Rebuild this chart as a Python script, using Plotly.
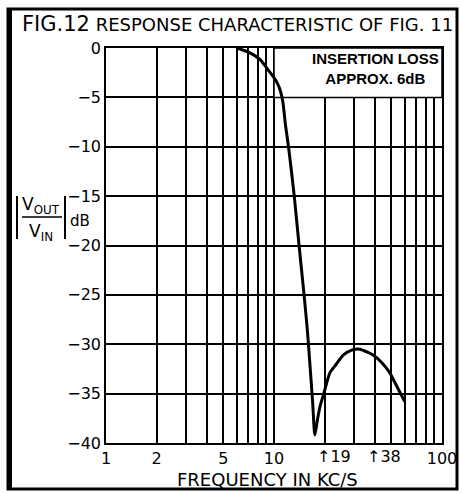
import math
import plotly.graph_objects as go

# ---- data ----
freq_kcs = [6.0, 7.0, 8.3, 9.3, 9.9, 10.5, 10.9, 11.3, 11.7, 12.2, 13.2, 14.1, 15.1,
            15.8, 16.4, 17.0, 17.5, 18.2, 18.8, 20.0, 21.5, 23.5, 25.8, 29.0, 32.4,
            36.0, 38.9, 44.0, 48.9, 54.0, 60.0]
response_db = [0.0, -0.4, -1.2, -2.3, -2.9, -3.6, -4.3, -5.5, -7.8, -10.0, -15.0, -20.0, -25.0,
               -28.6, -32.3, -36.0, -39.2, -37.5, -36.3, -34.7, -32.9, -32.0, -31.1, -30.6, -30.5,
               -30.8, -31.1, -31.9, -32.9, -34.3, -35.8]

x_tick_vals = [1, 2, 5, 10, 100]
x_tick_text = ["1", "2", "5", "10", "100"]
x_grid_vals = [1, 2, 3, 4, 5, 6, 7, 8, 9, 10, 20, 30, 40, 50, 60, 70, 80, 90, 100]
arrow_marks = [19, 38]
y_tick_vals = [0, -5, -10, -15, -20, -25, -30, -35, -40]
y_tick_text = ["0", "\u22125", "\u221210", "\u221215", "\u221220", "\u221225", "\u221230", "\u221235", "\u221240"]

# note box: frequency span and dB span
note_box_freq = [10, 100]
note_box_db = [-5, 0]

FONT = "DejaVu Sans"
W, H = 462, 493
L, R, T, B = 106, 20, 48, 50
PW, PH = W - L - R, H - T - B


def px(xp):
    return (xp - L) / PW


def py(yp):
    return (H - B - yp) / PH


fig = go.Figure()
# white note box drawn as a filled trace so it hides the grid
bx0, bx1 = note_box_freq
by0, by1 = note_box_db
fig.add_trace(go.Scatter(
    x=[bx0, bx1, bx1, bx0, bx0], y=[by0, by0, by1, by1, by0],
    mode="lines", fill="toself", fillcolor="white",
    line=dict(color="black", width=1.5), hoverinfo="skip", showlegend=False,
))
fig.add_trace(go.Scatter(
    x=freq_kcs, y=response_db, mode="lines",
    line=dict(color="black", width=3, shape="spline", smoothing=0.6),
    hoverinfo="skip", showlegend=False,
))

shapes = [
    # outer frame
    dict(type="rect", xref="paper", yref="paper", x0=px(8), x1=px(457), y0=py(489), y1=py(9),
         line=dict(color="black", width=3), fillcolor="rgba(0,0,0,0)"),
    dict(type="line", xref="paper", yref="paper", x0=px(9.5), x1=px(9.5), y0=py(489), y1=py(9),
         line=dict(color="black", width=5)),
    # |Vout/Vin| bracket
    dict(type="line", xref="paper", yref="paper", x0=px(17), x1=px(17), y0=py(196), y1=py(239),
         line=dict(color="black", width=2)),
    dict(type="line", xref="paper", yref="paper", x0=px(65), x1=px(65), y0=py(196), y1=py(239),
         line=dict(color="black", width=2)),
    dict(type="line", xref="paper", yref="paper", x0=px(22), x1=px(62), y0=py(217), y1=py(217),
         line=dict(color="black", width=1.5)),
]


def note(x, y, text, size, family=FONT, xanchor="center"):
    return dict(xref="paper", yref="paper", x=px(x), y=py(y), xanchor=xanchor, yanchor="middle",
                text=text, showarrow=False, align="center",
                font=dict(family=family, size=size, color="black"))


annotations = [
    note(41, 205, "V<sub>OUT</sub>", 17),
    note(41, 232, "V<sub>IN</sub>", 17),
    note(80, 221, "dB", 15),
    note(375, 69, "<b>INSERTION LOSS<br>APPROX. 6dB</b>", 15, family="Liberation Sans"),
    note(20, 24, '<span style="font-size:21px">FIG.12</span> RESPONSE CHARACTERISTIC OF FIG. 11',
         18, xanchor="left"),
    note(267, 479, "FREQUENCY IN KC/S", 18),
]
for m in arrow_marks:
    annotations.append(dict(
        xref="x", yref="paper", x=math.log10(m), y=py(456), xanchor="left", yanchor="middle",
        xshift=-6, text="\u2191" + str(m), showarrow=False,
        font=dict(family=FONT, size=16, color="black"),
    ))

fig.update_layout(
    width=W, height=H,
    margin=dict(l=L, r=R, t=T, b=B, autoexpand=False),
    paper_bgcolor="white", plot_bgcolor="white",
    xaxis=dict(
        type="log", range=[0, 2],
        tickmode="array", tickvals=x_tick_vals, ticktext=x_tick_text,
        showgrid=False, ticks="", zeroline=False,
        showline=True, linecolor="black", linewidth=1.5, mirror=True,
        tickfont=dict(family=FONT, size=16, color="black"),
        minor=dict(tickmode="array", tickvals=x_grid_vals, showgrid=True,
                   gridcolor="black", gridwidth=1.5, ticks=""),
    ),
    yaxis=dict(
        range=[-40, 0], tickmode="array", tickvals=y_tick_vals, ticktext=y_tick_text,
        showgrid=True, gridcolor="black", gridwidth=1.5, zeroline=False, ticks="",
        showline=True, linecolor="black", linewidth=1.5, mirror=True,
        tickfont=dict(family=FONT, size=16, color="black"),
    ),
    shapes=shapes,
    annotations=annotations,
    showlegend=False,
)

fig.write_html("out.html", config={"displayModeBar": False},
               post_script="document.body.style.margin='0';")
